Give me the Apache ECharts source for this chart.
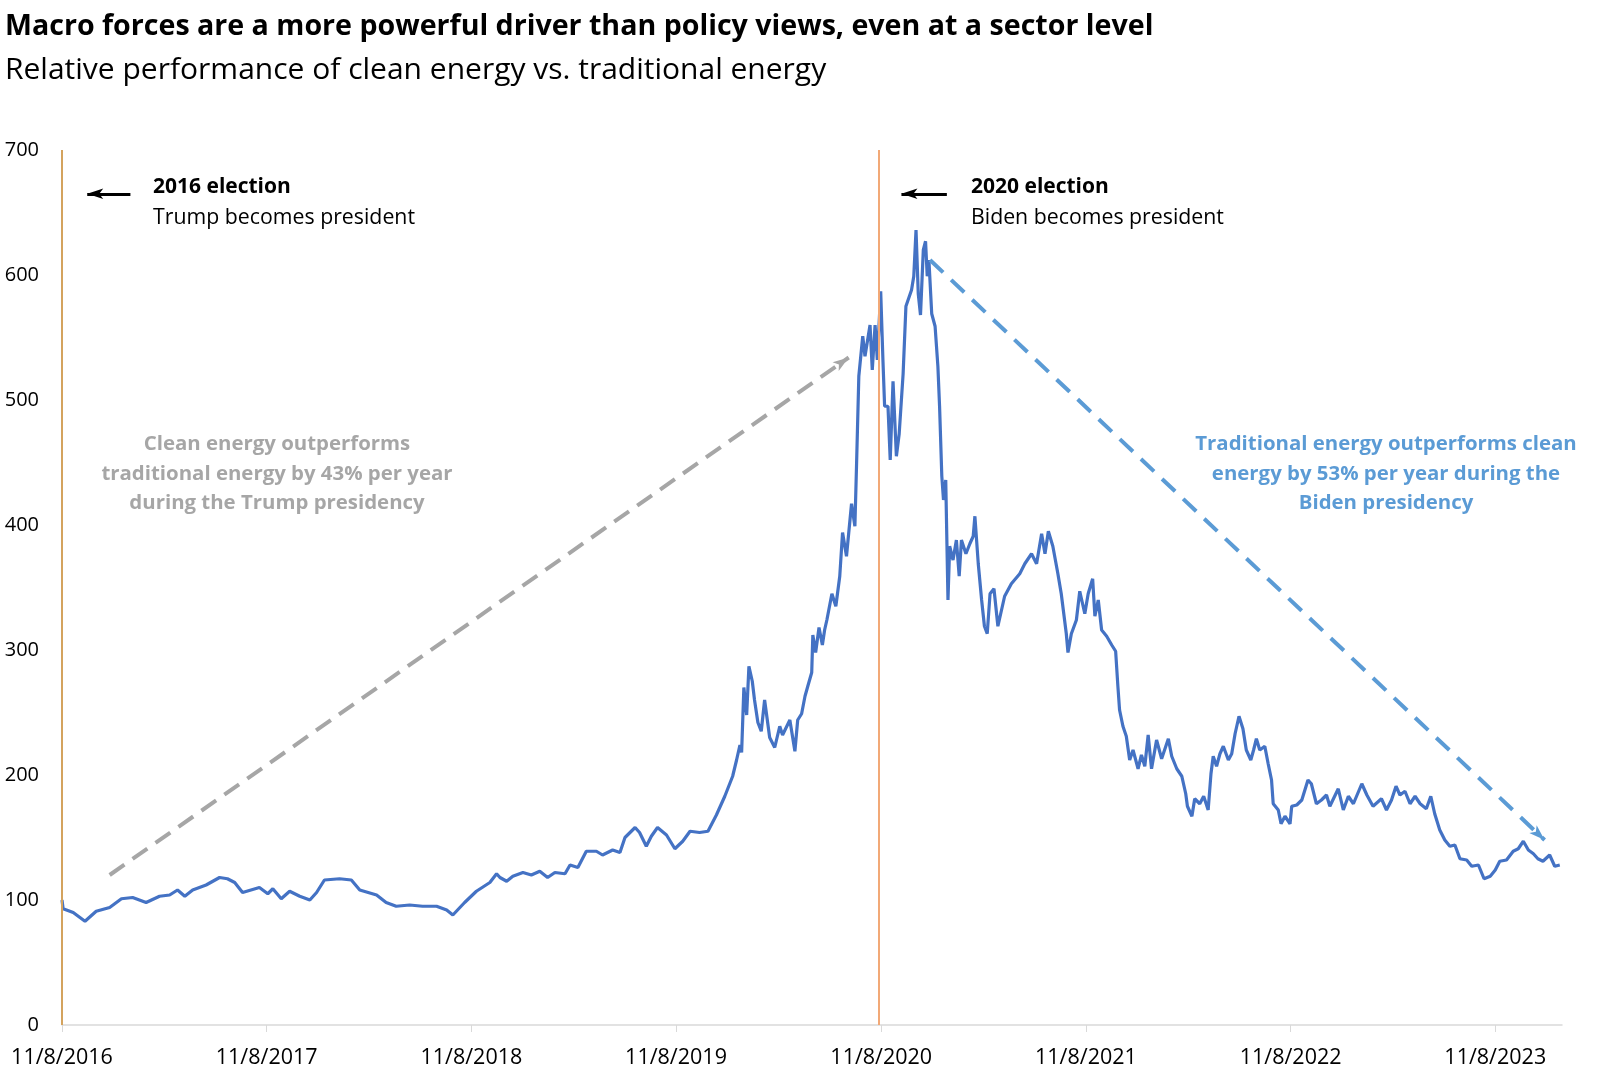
<!DOCTYPE html>
<html>
<head>
<meta charset="utf-8">
<script src="https://cdn.jsdelivr.net/npm/echarts@6/dist/echarts.min.js"></script>
<style>
html,body{margin:0;padding:0;background:#fff;}
#chart{width:1600px;height:1089px;}
</style>
</head>
<body>
<div id="chart"></div>
<script>
// ---- data ----
const dates = [
'2016-11-08','2016-11-10','2016-11-28','2016-12-19','2017-01-08','2017-02-01','2017-02-22','2017-03-14','2017-04-07','2017-05-01',
'2017-05-19','2017-06-02','2017-06-15','2017-06-29','2017-07-23','2017-08-16','2017-08-30','2017-09-12','2017-09-26','2017-10-26',
'2017-11-10','2017-11-19','2017-12-04','2017-12-19','2018-01-06','2018-01-24','2018-02-05','2018-02-19','2018-03-18','2018-04-08',
'2018-04-23','2018-05-23','2018-06-09','2018-06-27','2018-07-21','2018-08-13','2018-09-07','2018-09-25','2018-10-06','2018-10-27',
'2018-11-17','2018-12-11','2018-12-23','2018-12-29','2019-01-10','2019-01-21','2019-02-08','2019-02-23','2019-03-10','2019-03-24',
'2019-04-06','2019-04-24','2019-05-03','2019-05-17','2019-06-01','2019-06-19','2019-06-30','2019-07-18','2019-07-31','2019-08-09',
'2019-08-27','2019-09-04','2019-09-16','2019-09-25','2019-10-06','2019-10-22','2019-11-06','2019-11-20','2019-12-03','2019-12-20',
'2020-01-04','2020-01-19','2020-02-03','2020-02-17','2020-02-24','2020-03-01','2020-03-04','2020-03-08','2020-03-13','2020-03-17',
'2020-03-23','2020-03-27','2020-04-02','2020-04-08','2020-04-14','2020-04-23','2020-05-02','2020-05-11','2020-05-16','2020-05-29',
'2020-06-07','2020-06-12','2020-06-19','2020-06-25','2020-06-30','2020-07-07','2020-07-09','2020-07-14','2020-07-20','2020-07-26',
'2020-07-30','2020-08-03','2020-08-12','2020-08-19','2020-08-26','2020-08-31','2020-09-07','2020-09-16','2020-09-22','2020-09-25',
'2020-09-29','2020-10-06','2020-10-10','2020-10-19','2020-10-23','2020-10-28','2020-11-01','2020-11-07','2020-11-11','2020-11-14',
'2020-11-20','2020-11-24','2020-11-29','2020-12-05','2020-12-10','2020-12-17','2020-12-22','2021-01-01','2021-01-05','2021-01-09',
'2021-01-13','2021-01-17','2021-01-22','2021-01-26','2021-01-29','2021-02-01','2021-02-06','2021-02-12','2021-02-17','2021-02-20',
'2021-02-24','2021-02-27','2021-03-03','2021-03-07','2021-03-10','2021-03-16','2021-03-22','2021-03-27','2021-03-31','2021-04-08',
'2021-04-15','2021-04-21','2021-04-24','2021-04-30','2021-05-06','2021-05-11','2021-05-16','2021-05-21','2021-05-28','2021-06-04',
'2021-06-16','2021-06-28','2021-07-13','2021-07-22','2021-08-03','2021-08-12','2021-08-21','2021-08-27','2021-09-02','2021-09-10',
'2021-09-19','2021-09-25','2021-10-04','2021-10-07','2021-10-13','2021-10-22','2021-10-28','2021-11-06','2021-11-12','2021-11-20',
'2021-11-24','2021-11-30','2021-12-06','2021-12-15','2021-12-24','2021-12-31','2022-01-04','2022-01-07','2022-01-13','2022-01-19',
'2022-01-25','2022-01-31','2022-02-09','2022-02-15','2022-02-21','2022-02-27','2022-03-05','2022-03-14','2022-03-23','2022-04-04',
'2022-04-10','2022-04-19','2022-04-28','2022-05-05','2022-05-08','2022-05-16','2022-05-21','2022-05-30','2022-06-06','2022-06-14',
'2022-06-19','2022-06-23','2022-06-29','2022-07-05','2022-07-11','2022-07-20','2022-07-26','2022-08-01','2022-08-08','2022-08-15',
'2022-08-21','2022-08-29','2022-09-03','2022-09-08','2022-09-14','2022-09-23','2022-09-29','2022-10-05','2022-10-08','2022-10-17',
'2022-10-22','2022-10-29','2022-11-07','2022-11-10','2022-11-19','2022-11-28','2022-12-09','2022-12-15','2022-12-24','2023-01-02',
'2023-01-11','2023-01-17','2023-02-01','2023-02-10','2023-02-19','2023-02-28','2023-03-15','2023-03-24','2023-04-04','2023-04-19',
'2023-04-28','2023-05-07','2023-05-15','2023-05-22','2023-05-31','2023-06-09','2023-06-18','2023-06-27','2023-07-08','2023-07-16',
'2023-07-23','2023-08-01','2023-08-10','2023-08-19','2023-08-28','2023-09-06','2023-09-18','2023-09-27','2023-10-09','2023-10-19',
'2023-10-30','2023-11-08','2023-11-16','2023-11-28','2023-12-10','2023-12-19','2023-12-28','2024-01-06','2024-01-15','2024-01-23',
'2024-02-01','2024-02-13','2024-02-22','2024-03-02'
];
const values = [
100,93,90,83,91,94,101,102,98,103,
104,108,103,108,112,118,117,114,106,110,
105,109,101,107,103,100,106,116,117,116,
108,104,98,95,96,95,95,92,88,98,
107,114,121,118,115,119,122,120,123,118,
122,121,128,126,139,139,136,140,138,150,
158,154,143,151,158,152,141,147,155,154,
155,168,183,199,212,224,218,270,248,287,
275,260,242,235,260,230,222,239,232,244,
219,244,249,263,271,282,312,298,318,304,
316,324,345,335,359,394,375,417,399,449,
519,551,535,560,524,560,532,587,532,495,
495,452,515,455,473,521,575,588,599,636,
585,568,620,627,599,612,569,559,527,495,
439,420,436,340,383,372,388,359,388,377,
385,391,407,369,340,319,313,345,349,319,
343,353,361,369,377,369,393,377,395,383,
361,345,313,298,313,324,347,329,345,357,
327,340,316,311,304,299,271,252,239,231,
212,220,205,216,207,232,205,228,213,229,
215,205,199,185,175,167,181,177,183,172,
201,215,207,217,223,212,217,233,247,237,
220,212,220,229,220,223,209,196,177,172,
161,167,161,175,176,180,196,193,177,180,
184,175,189,172,183,177,193,184,175,181,
172,180,191,184,187,177,183,177,173,183,
169,156,148,143,144,133,132,127,128,117,
119,124,131,132,139,141,147,140,137,133,
131,136,127,128
];
const tickDates = ['2016-11-08','2017-11-08','2018-11-08','2019-11-08','2020-11-08','2021-11-08','2022-11-08','2023-11-08'];
const electionDates = ['2016-11-08','2020-11-03'];
const axisStart = '2016-11-08';
const axisEnd = '2024-03-06';
// annotation arrows [date, value] start -> end
const trumpArrow = [['2017-02-01',120],['2020-09-11',534]];
const bidenArrow = [['2021-02-03',612],['2024-02-04',148]];
const leftArrow2016 = [['2017-03-10',665],['2016-12-23',665]];
const leftArrow2020 = [['2021-03-05',665],['2020-12-14',665]];

function ts(s){const p=s.split('-').map(Number);return new Date(p[0],p[1]-1,p[2]).getTime();}
function fmt(v){const d=new Date(v);return (d.getMonth()+1)+'/'+d.getDate()+'/'+d.getFullYear();}

const seriesData = dates.map((d,i)=>[ts(d), values[i]]);
const FONT = 'Open Sans';

const chart = echarts.init(document.getElementById('chart'), null, {renderer:'canvas'});
chart.setOption({
  animation:false,
  backgroundColor:'#ffffff',
  grid:{left:62,right:38,top:150,height:875,containLabel:false},
  xAxis:{
    type:'value',
    min:ts(axisStart), max:ts(axisEnd),
    axisLine:{show:true,lineStyle:{color:'#D9D9D9',width:1.5}},
    axisTick:{show:true,customValues:tickDates.map(ts),length:7,lineStyle:{color:'#D9D9D9',width:1}},
    axisLabel:{customValues:tickDates.map(ts),formatter:fmt,margin:22,fontFamily:FONT,fontSize:21.5,color:'#000'},
    splitLine:{show:false}
  },
  yAxis:{
    type:'value',min:0,max:700,interval:100,
    axisLine:{show:false},axisTick:{show:false},splitLine:{show:false},
    axisLabel:{margin:23,fontFamily:FONT,fontSize:20,color:'#000'}
  },
  series:[
    {
      type:'line',data:[],z:1,silent:true,
      markLine:{
        silent:true,symbol:['none','none'],label:{show:false},
        data:[
          {xAxis:ts(electionDates[0]),lineStyle:{color:'#D4A35E',width:2,type:'solid'}},
          {xAxis:ts(electionDates[1]),lineStyle:{color:'#F2A977',width:2,type:'solid'}}
        ]
      }
    },
    {
      type:'line',data:seriesData,z:3,showSymbol:false,silent:true,
      lineStyle:{color:'#4472C4',width:3.2},
      itemStyle:{color:'#4472C4'}
    },
    {
      type:'line',data:[],z:4,silent:true,
      markLine:{
        silent:true,label:{show:false},symbol:['none','arrow'],
        data:[
          [{coord:[ts(trumpArrow[0][0]),trumpArrow[0][1]],lineStyle:{color:'#A6A6A6',width:4,type:[18,10]},symbolSize:[13,15]},
           {coord:[ts(trumpArrow[1][0]),trumpArrow[1][1]]}],
          [{coord:[ts(bidenArrow[0][0]),bidenArrow[0][1]],lineStyle:{color:'#5B9BD5',width:4,type:[18,11]},symbolSize:[13,15]},
           {coord:[ts(bidenArrow[1][0]),bidenArrow[1][1]]}],
          [{coord:[ts(leftArrow2016[0][0]),leftArrow2016[0][1]],lineStyle:{color:'#000',width:3,type:'solid'},symbolSize:[11,13]},
           {coord:[ts(leftArrow2016[1][0]),leftArrow2016[1][1]]}],
          [{coord:[ts(leftArrow2020[0][0]),leftArrow2020[0][1]],lineStyle:{color:'#000',width:3,type:'solid'},symbolSize:[11,13]},
           {coord:[ts(leftArrow2020[1][0]),leftArrow2020[1][1]]}]
        ]
      }
    }
  ],
  graphic:[
    {type:'text',x:5,y:27,style:{text:'Macro forces are a more powerful driver than policy views, even at a sector level',fontFamily:FONT,fontWeight:'bold',fontSize:28.6,fill:'#000',verticalAlign:'middle'}},
    {type:'text',x:5,y:70,style:{text:'Relative performance of clean energy vs. traditional energy',fontFamily:FONT,fontSize:30,fill:'#000',verticalAlign:'middle'}},
    {type:'text',x:153,y:187,style:{text:'2016 election',fontFamily:FONT,fontWeight:'bold',fontSize:21,fill:'#000',verticalAlign:'middle'}},
    {type:'text',x:153,y:218,style:{text:'Trump becomes president',fontFamily:FONT,fontSize:21.3,fill:'#000',verticalAlign:'middle'}},
    {type:'text',x:971,y:187,style:{text:'2020 election',fontFamily:FONT,fontWeight:'bold',fontSize:21,fill:'#000',verticalAlign:'middle'}},
    {type:'text',x:971,y:218,style:{text:'Biden becomes president',fontFamily:FONT,fontSize:21.3,fill:'#000',verticalAlign:'middle'}},
    {type:'text',x:277,y:444,style:{text:'Clean energy outperforms',fontFamily:FONT,fontWeight:'bold',fontSize:20.4,fill:'#A6A6A6',align:'center',verticalAlign:'middle'}},
    {type:'text',x:277,y:474,style:{text:'traditional energy by 43% per year',fontFamily:FONT,fontWeight:'bold',fontSize:20.4,fill:'#A6A6A6',align:'center',verticalAlign:'middle'}},
    {type:'text',x:277,y:503,style:{text:'during the Trump presidency',fontFamily:FONT,fontWeight:'bold',fontSize:20.4,fill:'#A6A6A6',align:'center',verticalAlign:'middle'}},
    {type:'text',x:1386,y:444,style:{text:'Traditional energy outperforms clean',fontFamily:FONT,fontWeight:'bold',fontSize:20.4,fill:'#5B9BD5',align:'center',verticalAlign:'middle'}},
    {type:'text',x:1386,y:474,style:{text:'energy by 53% per year during the',fontFamily:FONT,fontWeight:'bold',fontSize:20.4,fill:'#5B9BD5',align:'center',verticalAlign:'middle'}},
    {type:'text',x:1386,y:503,style:{text:'Biden presidency',fontFamily:FONT,fontWeight:'bold',fontSize:20.4,fill:'#5B9BD5',align:'center',verticalAlign:'middle'}}
  ]
});
</script>
</body>
</html>
